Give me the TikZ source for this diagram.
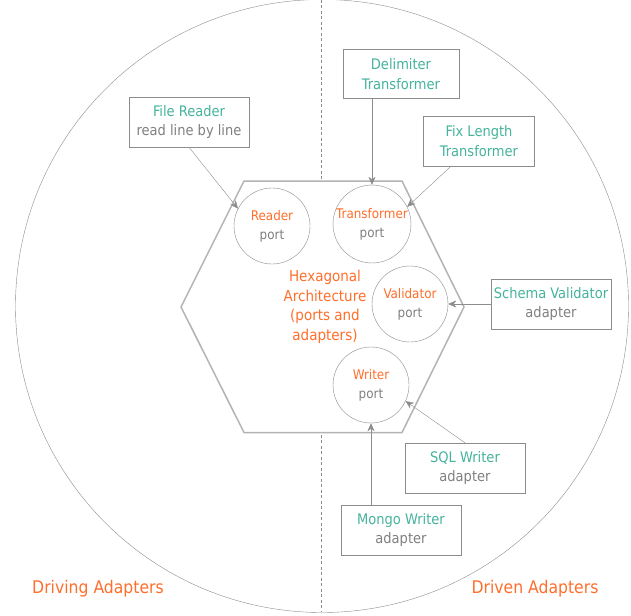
\documentclass[tikz,border=0pt]{standalone}
\usepackage{fontspec}
\setmainfont{DejaVu Sans Condensed}
\usetikzlibrary{arrows.meta}

\definecolor{tealtext}{HTML}{45B39D}
\definecolor{orangetext}{HTML}{FF6E2B}
\definecolor{graytext}{HTML}{808080}
\definecolor{linegray}{HTML}{8C8C8C}
\definecolor{hexgray}{HTML}{B3B3B3}

\tikzset{
    adapter/.style={draw=linegray, fill=white, minimum width=120pt, minimum height=50pt,
        inner sep=1pt, align=center, font=\fontsize{14.5}{19.5}\selectfont},
    port/.style={circle, draw=linegray, fill=white, minimum size=76pt, inner sep=0pt,
        align=center, font=\fontsize{13.3}{18.8}\selectfont},
    link/.style={draw=linegray, -{Stealth[length=8pt,width=7pt,inset=2.5pt]}},
    side/.style={text=orangetext, font=\fontsize{17.4}{20}\selectfont}
}

\begin{document}
\begin{tikzpicture}[x=1pt, y=-1pt]

        \useasboundingbox (0, 0) rectangle (631, 615);

        \draw[linegray] (322, 306) circle (306.5);
        \draw[linegray, dash pattern=on 3pt off 2.5pt] (321.5, 0) -- (321.5, 612);

        \draw[hexgray, line width=1.5pt, fill=white]
            (244, 181) -- (402, 181) -- (464, 307) -- (402, 432.5) -- (244, 432.5) -- (181, 307) -- cycle;

        \node[text=orangetext, align=center, font=\fontsize{15}{19.5}\selectfont] (hexa) at (325, 307)
            {Hexagonal\\Architecture\\(ports and\\adapters)};

        \node[port] (reader) at (272, 226) {\textcolor{orangetext}{Reader}\\\textcolor{graytext}{port}};
        \node[port] (transformer) at (372, 224) {\textcolor{orangetext}{Transformer}\\\textcolor{graytext}{port}};
        \node[port] (validator) at (410, 304) {\textcolor{orangetext}{Validator}\\\textcolor{graytext}{port}};
        \node[port] (writer) at (371, 385) {\textcolor{orangetext}{Writer}\\\textcolor{graytext}{port}};

        \node[adapter] (filereader) at (189, 122) {\textcolor{tealtext}{File Reader}\\\textcolor{graytext}{read line by line}};
        \node[adapter, minimum width=116pt, minimum height=49pt] (delimiter) at (401, 74)
            {\textcolor{tealtext}{Delimiter}\\\textcolor{tealtext}{Transformer}};
        \node[adapter, minimum width=111pt] (fixlength) at (479, 141)
            {\textcolor{tealtext}{Fix Length}\\\textcolor{tealtext}{Transformer}};
        \node[adapter] (schema) at (551, 304) {\textcolor{tealtext}{Schema Validator}\\\textcolor{graytext}{adapter}};
        \node[adapter] (sqlwriter) at (465, 468) {\textcolor{tealtext}{SQL Writer}\\\textcolor{graytext}{adapter}};
        \node[adapter] (mongowriter) at (401, 530) {\textcolor{tealtext}{Mongo Writer}\\\textcolor{graytext}{adapter}};

        \draw[link] (filereader.south) -- (reader.153);
        \draw[link] (transformer.north |- delimiter.south) -- (transformer.north);
        \draw[link] ([xshift=-28pt]fixlength.south) -- (transformer.26);
        \draw[link] (schema.west) -- (validator.east);
        \draw[link] (sqlwriter.north) -- (writer.-25);
        \draw[link] (writer.south |- mongowriter.north) -- (writer.south);

        \node[side] (driving) at (98, 589) {Driving Adapters};
        \node[side] (driven) at (535, 589) {Driven Adapters};

    \end{tikzpicture}
\end{document}
